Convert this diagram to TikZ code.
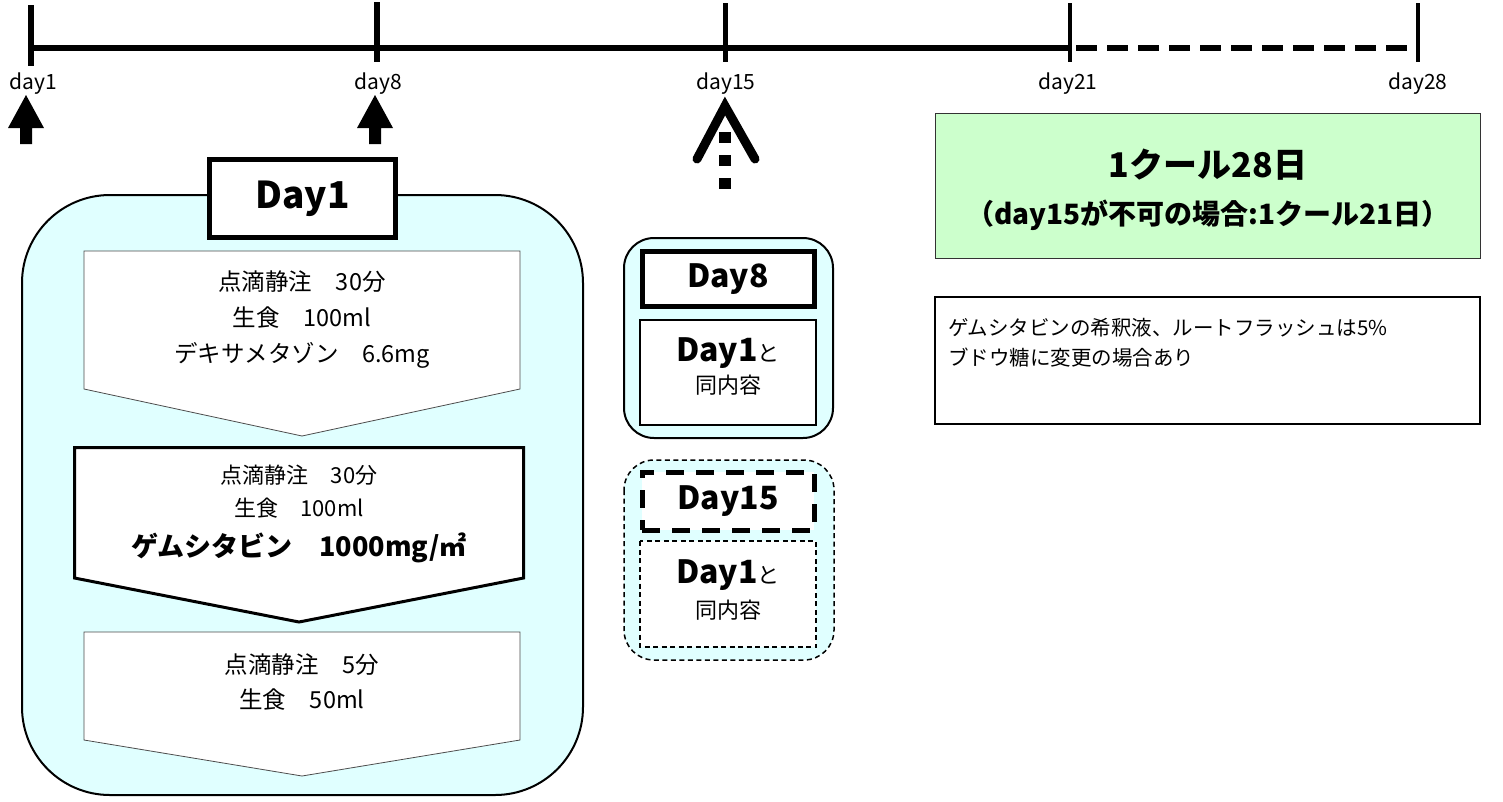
\documentclass[tikz,border=0pt]{standalone}
\usepackage{fontspec}
\setmainfont{Noto Sans CJK JP}
\definecolor{dripcyan}{RGB}{224,255,255}
\definecolor{cyclegreen}{RGB}{204,255,204}
\tikzset{
  tickline/.style={line width=5pt},
  daylbl/.style={font=\fontsize{21}{21}\selectfont},
  drip/.style={font=\fontsize{23.5}{23.5}\selectfont},
  dripbold/.style={font=\fontsize{27}{27}\selectfont\bfseries},
  headtxt/.style={font=\fontsize{37}{37}\selectfont\bfseries},
  sametxt/.style={font=\fontsize{22}{22}\selectfont},
  thinstep/.style={draw=black!70, line width=0.8pt, fill=white},
  boldstep/.style={draw=black, line width=3pt, fill=white},
  dayhead/.style={draw=black, line width=5pt, fill=white},
  dayheaddash/.style={draw=black, line width=5pt, fill=white, dash pattern=on 18pt off 12pt},
  thindash/.style={dash pattern=on 5pt off 3.5pt},
}
\begin{document}
\begin{tikzpicture}[x=1pt,y=1pt]
\tikzstyle{every node}+=[inner sep=0pt]
\useasboundingbox (0,0) rectangle (1503,-801);
\draw [line width=6pt] (31,-48) -- (1070,-48);
\draw [line width=6pt, dash pattern=on 21pt off 10pt] (1076,-48) -- (1418,-48);
\draw [tickline, line width=6pt] (31,-5) -- (31,-66);
\draw [tickline, line width=6pt] (377,-2) -- (377,-62);
\draw [tickline] (725,-3) -- (725,-62);
\draw [tickline, line width=4pt] (1070,-3) -- (1070,-62);
\draw [tickline, line width=4pt] (1418,-3) -- (1418,-62);
\node [daylbl] (d1lbl) at (33,-84) {day1};
\node [daylbl] (d8lbl) at (378,-84) {day8};
\node [daylbl] (d15lbl) at (726,-84) {day15};
\node [daylbl] (d21lbl) at (1068,-84) {day21};
\node [daylbl] (d28lbl) at (1418,-84) {day28};
\fill [black] (26,-95) -- (44,-128) -- (32,-128) -- (32,-144) -- (20,-144) -- (20,-128) -- (8,-128) -- cycle;
\fill [black] (375,-95) -- (393,-128) -- (381,-128) -- (381,-144) -- (369,-144) -- (369,-128) -- (357,-128) -- cycle;
\draw [line width=9pt, line cap=round, line join=miter] (697,-159) -- (725,-106) -- (755,-159);
\draw [line width=12pt, dash pattern=on 11pt off 12pt] (725,-132) -- (725,-190);
\draw [line width=2pt, fill=dripcyan, rounded corners=88pt] (22,-195) rectangle (583,-795);
\node [dayhead, minimum width=186pt, minimum height=78pt] (d1head) at (302.5,-198.5) {};
\node [headtxt] (d1headtxt) at (d1head) {Day1};
\draw [thinstep] (84,-251) -- (520,-251) -- (520,-389) -- (302,-436) -- (84,-389) -- cycle;
\node [drip] (s1a) at (302,-282) {点滴静注　30分};
\node [drip] (s1b) at (302,-318) {生食　100ml};
\node [drip] (s1c) at (302,-355) {デキサメタゾン　6.6mg};
\draw [boldstep] (74.5,-447.5) -- (523.5,-447.5) -- (523.5,-578) -- (299,-622) -- (74.5,-578) -- cycle;
\node [drip, font=\fontsize{22}{22}\selectfont] (s2a) at (299,-475) {点滴静注　30分};
\node [drip, font=\fontsize{22}{22}\selectfont] (s2b) at (299,-508) {生食　100ml};
\node [dripbold] (s2c) at (299,-548) {ゲムシタビン　1000mg/㎡};
\draw [thinstep] (84,-632) -- (520,-632) -- (520,-740) -- (302,-776) -- (84,-740) -- cycle;
\node [drip] (s3a) at (302,-665) {点滴静注　5分};
\node [drip] (s3b) at (302,-700) {生食　50ml};
\draw [line width=2pt, fill=dripcyan, rounded corners=30pt] (624,-238) rectangle (833,-438);
\node [dayhead, minimum width=172pt, minimum height=55pt] (d8head) at (728,-279) {};
\node [headtxt, font=\fontsize{32}{32}\selectfont\bfseries] (d8headtxt) at (d8head) {Day8};
\draw [line width=1.5pt, fill=white] (640,-320) rectangle (816,-425) node [midway] (d8body) {};
\node [headtxt, font=\fontsize{32}{32}\selectfont\bfseries, anchor=base] (d8same) at (728,-361) {Day1{\mdseries\fontsize{22}{22}\selectfont と}};
\node [sametxt] (d8samel) at (728,-385) {同内容};
\draw [line width=1.5pt, fill=dripcyan, thindash, rounded corners=30pt] (624,-460) rectangle (834,-660);
\node [dayheaddash, minimum width=172pt, minimum height=58pt] (d15head) at (728,-501) {};
\node [headtxt, font=\fontsize{32}{32}\selectfont\bfseries] (d15headtxt) at (d15head) {Day15};
\draw [line width=1.5pt, fill=white, thindash] (640,-541) rectangle (816,-647) node [midway] (d15body) {};
\node [headtxt, font=\fontsize{32}{32}\selectfont\bfseries, anchor=base] (d15same) at (728,-583) {Day1{\mdseries\fontsize{22}{22}\selectfont と}};
\node [sametxt] (d15samel) at (728,-610) {同内容};
\draw [black!80, line width=1pt, fill=cyclegreen] (935,-113) rectangle (1480,-258) node [midway] (cycle) {};
\node [font=\fontsize{34}{34}\selectfont\bfseries] (cyclea) at (1208,-165) {1クール28日};
\node [font=\fontsize{28}{28}\selectfont\bfseries] (cycleb) at (1208,-215) {（day15が不可の場合:1クール21日）};
\draw [black, line width=1.5pt, fill=white] (935,-297) rectangle (1480,-424) node [midway] (note) {};
\node [font=\fontsize{20.5}{20.5}\selectfont, anchor=west] (notea) at (948,-328) {ゲムシタビンの希釈液、ルートフラッシュは5\%};
\node [font=\fontsize{20.5}{20.5}\selectfont, anchor=west] (noteb) at (948,-358) {ブドウ糖に変更の場合あり};
\end{tikzpicture}
\end{document}
